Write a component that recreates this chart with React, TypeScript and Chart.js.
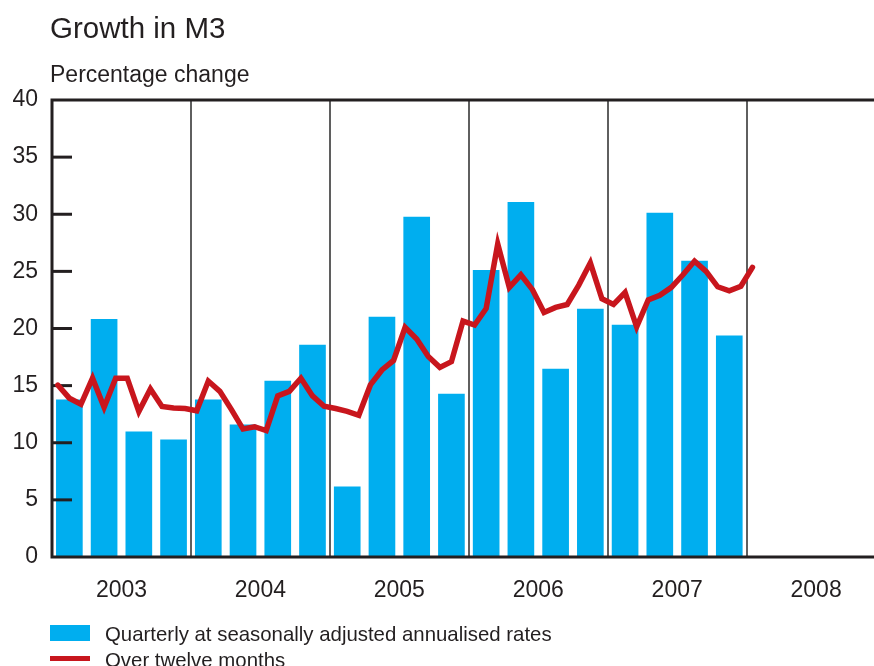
import React, { useEffect, useRef } from "react";
import { Chart, registerables } from "chart.js";

Chart.register(...registerables);

const years = ["2003", "2004", "2005", "2006", "2007", "2008"];

// Quarterly at seasonally adjusted annualised rates, 2003 Q1 - 2007 Q4
const quarterlyRates = [
  13.75, 20.8, 10.95, 10.25,
  13.75, 11.56, 15.4, 18.55,
  6.15, 21.0, 29.75, 14.27,
  25.1, 31.05, 16.45, 21.7,
  20.3, 30.1, 25.9, 19.35,
];

// Over twelve months, Jan 2003 - Jan 2008
const twelveMonth = [
  15.05, 13.9, 13.37, 15.65, 13.1, 15.65, 15.65, 12.73, 14.7, 13.17, 13.05, 13.0,
  12.8, 15.4, 14.5, 12.9, 11.2, 11.4, 11.07, 14.1, 14.5, 15.65, 14.1, 13.2,
  13.0, 12.75, 12.4, 15.06, 16.37, 17.2, 20.1, 19.08, 17.55, 16.6, 17.1, 20.65,
  20.3, 21.75, 27.4, 23.6, 24.7, 23.4, 21.4, 21.85, 22.1, 23.8, 25.75, 22.6,
  22.1, 23.15, 20.15, 22.5, 22.9, 23.6, 24.7, 25.9, 25.0, 23.65, 23.3, 23.7,
  25.35,
];

const yTicks = [0, 5, 10, 15, 20, 25, 30, 35, 40];

const BLUE = "#00aeef";
const RED = "#c8161d";
const INK = "#231f20";
const FONT = "'Liberation Sans', Arial, Helvetica, sans-serif";

const framePlugin = {
  id: "frame",
  beforeDatasetsDraw(chart: any) {
    const { ctx, chartArea, scales } = chart;
    ctx.save();
    ctx.strokeStyle = "#5f5f5f";
    ctx.lineWidth = 2;
    for (let k = 1; k < years.length; k++) {
      const px = Math.round(scales.x.getPixelForValue(k * 12));
      ctx.beginPath();
      ctx.moveTo(px, chartArea.top);
      ctx.lineTo(px, chartArea.bottom);
      ctx.stroke();
    }
    ctx.restore();
  },
  afterDatasetDraw(chart: any, args: any) {
    if (args.meta.type !== "bar") return;
    const { ctx, chartArea, scales } = chart;
    ctx.save();
    ctx.strokeStyle = INK;
    ctx.lineWidth = 3;
    yTicks.slice(1, -1).forEach((v) => {
      const py = scales.y.getPixelForValue(v);
      ctx.beginPath();
      ctx.moveTo(chartArea.left, py);
      ctx.lineTo(chartArea.left + 20, py);
      ctx.stroke();
    });
    ctx.restore();
  },
  afterDatasetsDraw(chart: any) {
    const { ctx, chartArea, scales } = chart;
    const top = scales.y.getPixelForValue(40);
    const bottom = scales.y.getPixelForValue(0);
    ctx.save();
    ctx.strokeStyle = INK;
    ctx.lineWidth = 3;
    ctx.beginPath();
    ctx.moveTo(chartArea.left, top);
    ctx.lineTo(chartArea.right, top);
    ctx.moveTo(chartArea.left, bottom);
    ctx.lineTo(chartArea.right, bottom);
    ctx.moveTo(chartArea.left, top - 1.5);
    ctx.lineTo(chartArea.left, bottom + 1.5);
    ctx.stroke();
    ctx.restore();
  },
};

export default function App() {
  const canvasRef = useRef<HTMLCanvasElement | null>(null);

  useEffect(() => {
    if (!canvasRef.current) return;
    const chart = new Chart(canvasRef.current, {
      type: "bar",
      data: {
        datasets: [
          {
            type: "line",
            label: "Over twelve months",
            data: twelveMonth.map((v, i) => ({ x: i + 0.5, y: v })),
            borderColor: RED,
            borderWidth: 5.5,
            pointRadius: 0,
            tension: 0,
            borderCapStyle: "round",
            order: 0,
          } as any,
          {
            type: "bar",
            label: "Quarterly at seasonally adjusted annualised rates",
            data: quarterlyRates.map((v, i) => ({ x: i * 3 + 1.5, y: v })),
            backgroundColor: BLUE,
            borderWidth: 0,
            barThickness: 26,
            order: 1,
          } as any,
        ],
      },
      options: {
        animation: false,
        responsive: true,
        maintainAspectRatio: false,
        layout: { padding: { top: 100, left: 0, right: 0, bottom: 65 } },
        plugins: {
          legend: { display: false },
          title: { display: false },
          tooltip: { enabled: false },
        },
        scales: {
          x: {
            type: "linear",
            min: 0,
            max: 71,
            offset: false,
            bounds: "ticks",
            grid: { display: false, drawTicks: false, offset: false },
            border: { display: false },
            afterBuildTicks: (scale: any) => {
              scale.ticks = years.map((_, i) => ({ value: i * 12 + 6 }));
            },
            afterFit: (scale: any) => {
              scale.height = 44;
            },
            ticks: {
              autoSkip: false,
              maxRotation: 0,
              padding: 20,
              color: INK,
              font: { family: FONT, size: 23 },
              callback: (v: any) => years[Math.round((Number(v) - 6) / 12)],
            },
          },
          y: {
            min: 0,
            max: 40,
            grid: { display: false, drawTicks: false },
            border: { display: false },
            afterFit: (scale: any) => {
              scale.width = 52;
            },
            ticks: {
              stepSize: 5,
              padding: 14,
              color: INK,
              font: { family: FONT, size: 23 },
            },
          },
        },
      } as any,
      plugins: [framePlugin],
    });
    return () => chart.destroy();
  }, []);

  const text: React.CSSProperties = {
    position: "absolute",
    fontFamily: FONT,
    color: INK,
    whiteSpace: "nowrap",
  };

  return (
    <div
      style={{
        position: "fixed",
        left: 0,
        top: 0,
        width: 874,
        height: 666,
        overflow: "hidden",
        background: "#fff",
      }}
    >
      <div style={{ position: "absolute", left: 0, top: 0, width: 874, height: 666 }}>
        <canvas ref={canvasRef} />
      </div>
      <div style={{ ...text, left: 50, top: 13, fontSize: 29.5, lineHeight: "30px" }}>
        Growth in M3
      </div>
      <div style={{ ...text, left: 50, top: 63, fontSize: 23, lineHeight: "23px" }}>
        Percentage change
      </div>
      <div style={{ position: "absolute", left: 50, top: 625, width: 40, height: 16, background: BLUE }} />
      <div style={{ ...text, left: 105, top: 624, fontSize: 20.4, lineHeight: "21px" }}>
        Quarterly at seasonally adjusted annualised rates
      </div>
      <div style={{ position: "absolute", left: 50, top: 656, width: 40, height: 5, background: RED }} />
      <div style={{ ...text, left: 105, top: 650, fontSize: 20.4, lineHeight: "21px" }}>
        Over twelve months
      </div>
    </div>
  );
}
